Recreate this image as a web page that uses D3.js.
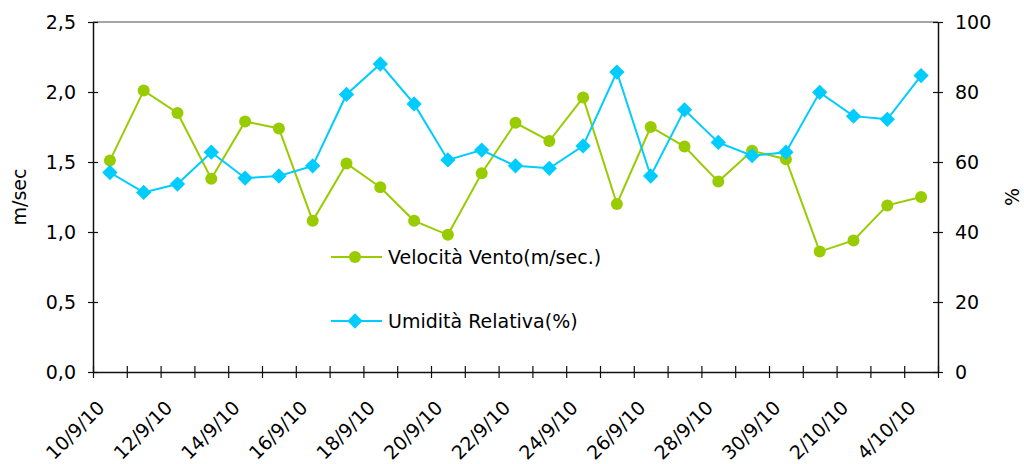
<!DOCTYPE html>
<html>
<head>
<meta charset="utf-8">
<script src="https://cdn.jsdelivr.net/npm/d3@7.9.0/dist/d3.min.js"></script>
<style>
  html, body { margin: 0; padding: 0; background: #fff; }
  svg { display: block; font-family: "DejaVu Sans", Verdana, sans-serif; }
</style>
</head>
<body>
<svg id="chart" width="1024" height="464"></svg>
<script>
// ------------------- Data -------------------
const dates = [
  '10/9/10', '11/9/10', '12/9/10', '13/9/10', '14/9/10', '15/9/10', '16/9/10',
  '17/9/10', '18/9/10', '19/9/10', '20/9/10', '21/9/10', '22/9/10', '23/9/10',
  '24/9/10', '25/9/10', '26/9/10', '27/9/10', '28/9/10', '29/9/10', '30/9/10',
  '1/10/10', '2/10/10', '3/10/10', '4/10/10'
];
const vento = [1.51, 2.01, 1.85, 1.38, 1.79, 1.74, 1.08, 1.49, 1.32, 1.08, 0.98, 1.42, 1.78,
  1.65, 1.96, 1.20, 1.75, 1.61, 1.36, 1.58, 1.52, 0.86, 0.94, 1.19, 1.25];
const umidita = [57.0, 51.3, 53.7, 62.8, 55.4, 56.0, 58.9, 79.3, 88.0, 76.6, 60.6, 63.4, 58.9,
  58.2, 64.6, 85.7, 56.0, 74.9, 65.6, 61.8, 62.8, 79.9, 73.1, 72.2, 84.7];
const leftTicks = [0, 0.5, 1.0, 1.5, 2.0, 2.5];
const rightTicks = [0, 20, 40, 60, 80, 100];
const seriesNames = ['Velocità Vento(m/sec.)', 'Umidità Relativa(%)'];

const green = '#99cc00', blue = '#00ccff';

// ------------------- Layout -------------------
const plot = { left: 93, right: 938, top: 22, bottom: 372 };
const svg = d3.select('#chart');

const x = d3.scaleBand().domain(dates).range([plot.left, plot.right]).padding(0);
const cx = d => x(d) + x.bandwidth() / 2;
const yL = d3.scaleLinear().domain([0, 2.5]).range([plot.bottom, plot.top]);
const yR = d3.scaleLinear().domain([0, 100]).range([plot.bottom, plot.top]);
const idx = d3.scaleLinear().domain([0, dates.length]).range([plot.left, plot.right]);

const comma = d => d.toFixed(1).replace('.', ',');

// top border
svg.append('line')
  .attr('x1', plot.left).attr('x2', plot.right)
  .attr('y1', plot.top).attr('y2', plot.top)
  .attr('stroke', '#888').attr('stroke-width', 1.5);

// ------------------- Axes -------------------
function styleAxis(g) {
  g.select('.domain').attr('stroke', '#111').attr('stroke-width', 1.5);
  g.selectAll('.tick line').attr('stroke', '#111').attr('stroke-width', 1.2);
  g.selectAll('.tick text').attr('fill', '#000').style('font-size', '19px')
    .style('font-family', '"DejaVu Sans", Verdana, sans-serif');
}

svg.append('g')
  .attr('transform', `translate(${plot.left},0)`)
  .call(d3.axisLeft(yL).tickValues(leftTicks).tickFormat(comma).tickSize(5).tickPadding(12).tickSizeOuter(0))
  .call(styleAxis)
  .call(g => g.selectAll('.tick line').attr('x2', -5).attr('x1', 5));

svg.append('g')
  .attr('transform', `translate(${plot.right},0)`)
  .call(d3.axisRight(yR).tickValues(rightTicks).tickSize(5).tickPadding(12).tickSizeOuter(0))
  .call(styleAxis)
  .call(g => g.selectAll('.tick line').attr('x1', -5).attr('x2', 5));

svg.append('g')
  .attr('transform', `translate(0,${plot.bottom})`)
  .call(d3.axisBottom(idx).tickValues(d3.range(dates.length + 1)).tickFormat('').tickSize(6).tickSizeOuter(0))
  .call(styleAxis)
  .call(g => g.selectAll('.tick line').attr('y1', -6));

// date labels every other day
svg.append('g')
  .selectAll('text')
  .data(dates.filter((d, i) => i % 2 === 0))
  .join('text')
  .attr('transform', d => `translate(${cx(d) - 4},${plot.bottom + 37}) rotate(-45)`)
  .attr('text-anchor', 'end')
  .style('font-size', '19px')
  .text(d => d);

// axis titles
svg.append('text')
  .attr('transform', `translate(26,197) rotate(-90)`)
  .attr('text-anchor', 'middle')
  .style('font-size', '19px')
  .text('m/sec');

svg.append('text')
  .attr('transform', `translate(1019,197) rotate(-90)`)
  .attr('text-anchor', 'middle')
  .style('font-size', '19px')
  .text('%');

// ------------------- Series -------------------
const diamond = d3.symbol().type(d3.symbolDiamond2).size(150);

svg.append('path')
  .datum(vento)
  .attr('fill', 'none').attr('stroke', green).attr('stroke-width', 2)
  .attr('d', d3.line().x((d, i) => cx(dates[i])).y(d => yL(d)));

svg.append('g').selectAll('circle')
  .data(vento)
  .join('circle')
  .attr('cx', (d, i) => cx(dates[i]))
  .attr('cy', d => yL(d))
  .attr('r', 6)
  .attr('fill', green);

svg.append('path')
  .datum(umidita)
  .attr('fill', 'none').attr('stroke', blue).attr('stroke-width', 2)
  .attr('d', d3.line().x((d, i) => cx(dates[i])).y(d => yR(d)));

svg.append('g').selectAll('path')
  .data(umidita)
  .join('path')
  .attr('transform', (d, i) => `translate(${cx(dates[i])},${yR(d)})`)
  .attr('d', diamond)
  .attr('fill', blue);

// ------------------- Legend -------------------
const legend = svg.append('g');
const legendItems = [
  { name: seriesNames[0], color: green, y: 257, marker: 'circle' },
  { name: seriesNames[1], color: blue, y: 321, marker: 'diamond' }
];
legendItems.forEach(it => {
  legend.append('line')
    .attr('x1', 331).attr('x2', 382).attr('y1', it.y).attr('y2', it.y)
    .attr('stroke', it.color).attr('stroke-width', 2);
  if (it.marker === 'circle') {
    legend.append('circle').attr('cx', 355).attr('cy', it.y).attr('r', 6).attr('fill', it.color);
  } else {
    legend.append('path').attr('transform', `translate(355,${it.y})`).attr('d', diamond).attr('fill', it.color);
  }
  legend.append('text')
    .attr('x', 388).attr('y', it.y + 7)
    .style('font-size', '19px')
    .text(it.name);
});
</script>
</body>
</html>
